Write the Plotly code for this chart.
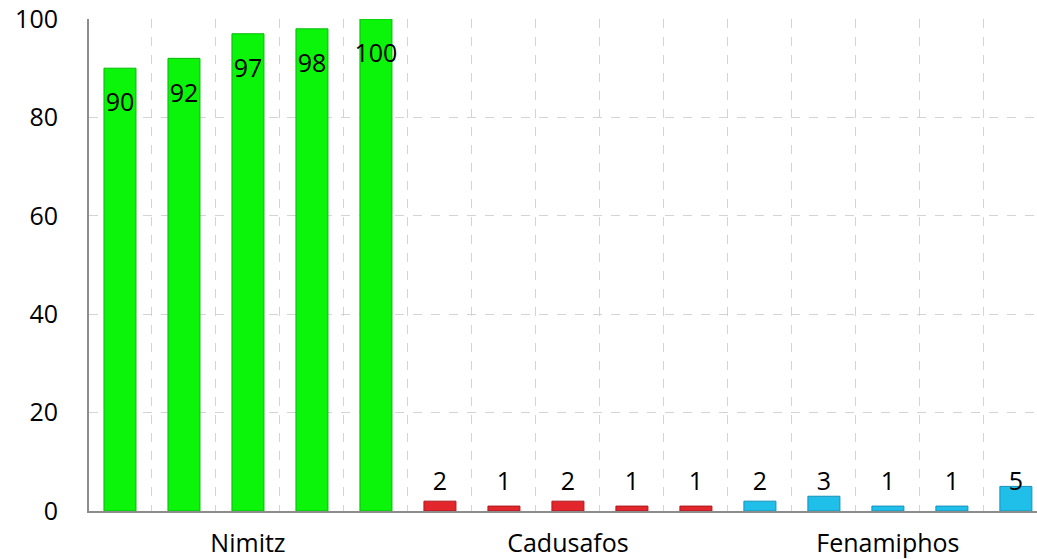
import plotly.graph_objects as go

groups = ["Nimitz", "Cadusafos", "Fenamiphos"]
values = [90, 92, 97, 98, 100, 2, 1, 2, 1, 1, 2, 3, 1, 1, 5]
group_colors = ["#0AF50A", "#E3262B", "#1FBFEA"]
group_lines = ["#08B808", "#A81A1E", "#1690B8"]
bars_per_group = 5
y_ticks = [0, 20, 40, 60, 80, 100]

xs = list(range(len(values)))
colors = [group_colors[i // bars_per_group] for i in xs]
lines = [group_lines[i // bars_per_group] for i in xs]
label_y = [max(v - 7.5, 5.6) for v in values]

FONT = "Open Sans"

fig = go.Figure()
fig.add_trace(go.Bar(
    x=xs, y=values, width=0.5,
    marker=dict(color=colors, line=dict(color=lines, width=1)),
    hoverinfo="y", showlegend=False,
))
fig.add_trace(go.Scatter(
    x=xs, y=label_y, mode="text", text=[str(v) for v in values],
    textfont=dict(size=25, color="black", family=FONT),
    showlegend=False, hoverinfo="skip", cliponaxis=False,
))

fig.update_layout(
    width=1037, height=559,
    margin=dict(l=89, r=0, t=19, b=48),
    paper_bgcolor="white", plot_bgcolor="white",
    font=dict(family=FONT, size=25, color="black"),
    xaxis=dict(
        range=[-0.484, 14.33],
        tickmode="array",
        tickvals=[bars_per_group * g + 2 for g in range(len(groups))],
        ticktext=groups,
        showgrid=False, zeroline=False, automargin=False,
        showline=True, linecolor="#8C8C8C", linewidth=2,
        ticks="", ticklabelstandoff=9, ticklabeloverflow="allow",
        minor=dict(
            tickvals=[i + 0.5 for i in xs[:-1]],
            showgrid=True, gridcolor="#D4D4D4", griddash="dash", gridwidth=1,
            ticks="",
        ),
    ),
    yaxis=dict(
        range=[0, 100],
        tickmode="array", tickvals=y_ticks,
        showgrid=True, gridcolor="#D4D4D4", griddash="dash", gridwidth=1,
        zeroline=False, automargin=False,
        showline=True, linecolor="#8C8C8C", linewidth=2,
        ticks="", ticklabelstandoff=24, ticklabeloverflow="allow",
    ),
)

# remove the browser's default 8px body margin so the figure fills the window
fig.write_html(
    "out.html",
    config={"displayModeBar": False},
    post_script="document.body.style.margin='0';document.body.style.overflow='hidden';",
)
